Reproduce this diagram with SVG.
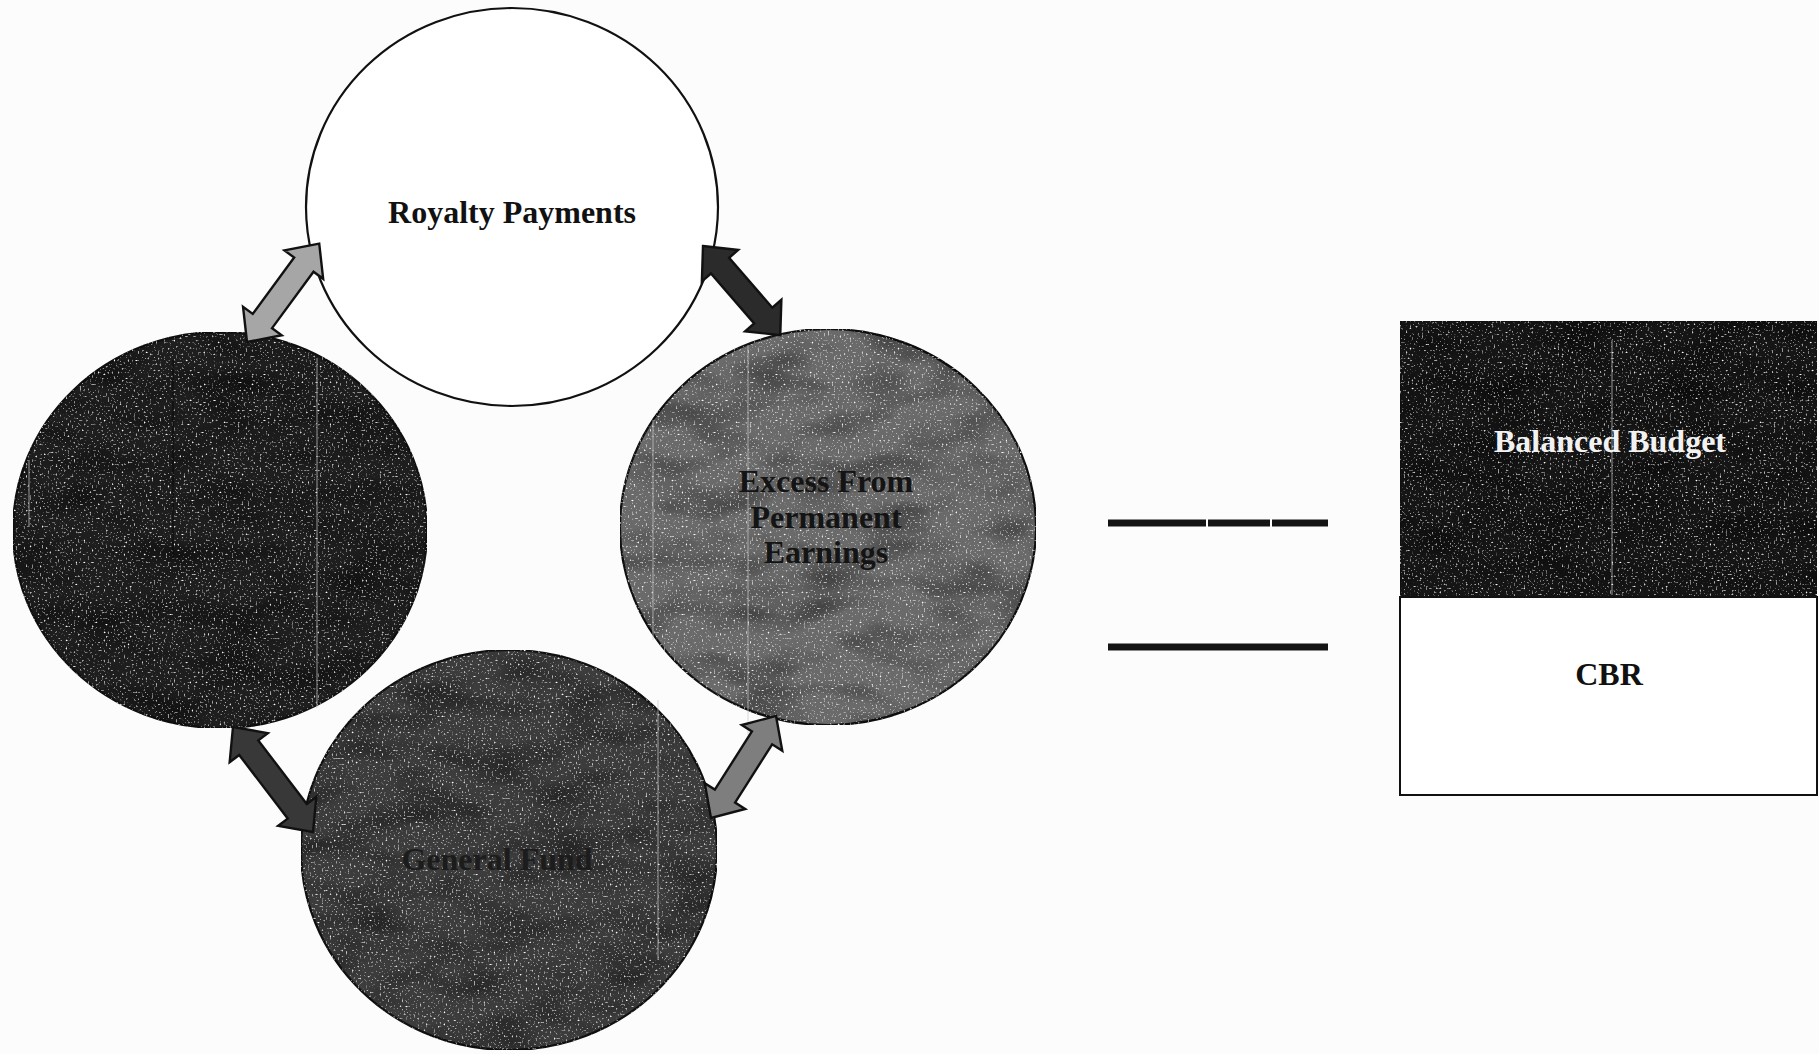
<svg xmlns="http://www.w3.org/2000/svg" width="1819" height="1054" viewBox="0 0 1819 1054">
  <defs>
    <filter id="grain" x="0%" y="0%" width="100%" height="100%" color-interpolation-filters="sRGB">
      <feTurbulence type="fractalNoise" baseFrequency="0.015 0.035" numOctaves="2" seed="7" result="blot"/>
      <feColorMatrix in="blot" type="matrix" values="0 0 0 0 0  0 0 0 0 0  0 0 0 0 0  0.9 0 0 0 -0.38" result="blotA"/>
      <feComposite in="blotA" in2="SourceGraphic" operator="in" result="blotIn"/>
      <feTurbulence type="fractalNoise" baseFrequency="0.5" numOctaves="1" seed="3" result="fine"/>
      <feColorMatrix in="fine" type="matrix" values="0 0 0 0 1  0 0 0 0 1  0 0 0 0 1  4.5 0 0 0 -2.75" result="dots"/>
      <feComposite in="dots" in2="SourceGraphic" operator="in" result="dotsIn"/>
      <feMerge>
        <feMergeNode in="SourceGraphic"/>
        <feMergeNode in="blotIn"/>
        <feMergeNode in="dotsIn"/>
      </feMerge>
    </filter>
    <style>
      .circ { stroke: #111; stroke-width: 2.2; }
      .lbl { font-family: "Liberation Serif", "Times New Roman", serif; font-weight: bold; font-size: 32px; text-anchor: middle; }
      .arrow { stroke: #111; stroke-width: 2.4; stroke-linejoin: miter; }
      .scan { stroke: #c8c8c8; stroke-width: 1.3; opacity: 0.55; }
      .eq { stroke: #141414; stroke-width: 7; }
    </style>
  </defs>
  <rect x="0" y="0" width="1819" height="1054" fill="#fcfcfc"/>

  <g id="node-royalty">
    <ellipse class="circ" cx="512" cy="207" rx="206" ry="199" fill="#ffffff"/>
    <text class="lbl" x="512" y="223" fill="#111">Royalty Payments</text>
  </g>

  <g id="node-left">
    <ellipse class="circ" cx="220" cy="530" rx="207" ry="198" fill="#1e1e1e" filter="url(#grain)"/>
    <line class="scan" x1="173" y1="360" x2="173" y2="560" style="stroke:#0a0a0a;opacity:0.8"/>
    <line class="scan" x1="317" y1="358" x2="317" y2="708"/>
    <line class="scan" x1="29" y1="460" x2="29" y2="527"/>
  </g>

  <g id="node-excess">
    <ellipse class="circ" cx="828" cy="527" rx="208" ry="198" fill="#6a6a6a" filter="url(#grain)"/>
    <line class="scan" x1="748" y1="345" x2="748" y2="735"/>
    <line class="scan" x1="653" y1="420" x2="653" y2="640"/>
    <text class="lbl" x="826" y="492" fill="#141414">Excess From</text>
    <text class="lbl" x="826" y="528" fill="#141414">Permanent</text>
    <text class="lbl" x="826" y="563" fill="#141414">Earnings</text>
  </g>

  <g id="node-general">
    <ellipse class="circ" cx="509" cy="850" rx="208" ry="200" fill="#3c3c3c" filter="url(#grain)"/>
    <line class="scan" x1="658" y1="700" x2="658" y2="960"/>
    <text class="lbl" x="497" y="870" fill="#1c1c1c">General Fund</text>
  </g>

  <g id="connectors">
    <polygon class="arrow" fill="#a6a6a6" transform="translate(247,342) rotate(-53.7)" points="0,0 26,-24 26,-12 96,-12 96,-24 122,0 96,24 96,12 26,12 26,24"/>
    <polygon class="arrow" fill="#2b2b2b" transform="translate(703,246) rotate(49.1)" points="0,0 26,-24 26,-12 92,-12 92,-24 118,0 92,24 92,12 26,12 26,24"/>
    <polygon class="arrow" fill="#383838" transform="translate(233,727) rotate(52.7)" points="0,0 26,-24 26,-12 106,-12 106,-24 132,0 106,24 106,12 26,12 26,24"/>
    <polygon class="arrow" fill="#7e7e7e" transform="translate(711,818) rotate(-57.5)" points="0,0 26,-24 26,-12 95,-12 95,-24 121,0 95,24 95,12 26,12 26,24"/>
  </g>

  <g id="equals">
    <line class="eq" x1="1108" y1="523" x2="1206" y2="523"/>
    <line class="eq" x1="1208" y1="523" x2="1270" y2="523"/>
    <line class="eq" x1="1272" y1="523" x2="1328" y2="523"/>
    <line class="eq" x1="1108" y1="647" x2="1328" y2="647"/>
  </g>

  <g id="node-balanced">
    <rect x="1400" y="321" width="417" height="276" fill="#151515" stroke="#111" stroke-width="2" filter="url(#grain)"/>
    <line class="scan" x1="1612" y1="340" x2="1612" y2="595"/>
    <text class="lbl" x="1610" y="452" fill="#f2f2f2">Balanced Budget</text>
  </g>

  <g id="node-cbr">
    <rect x="1400" y="597" width="417" height="198" fill="#ffffff" stroke="#111" stroke-width="2"/>
    <text class="lbl" x="1609" y="685" fill="#111">CBR</text>
  </g>
</svg>
